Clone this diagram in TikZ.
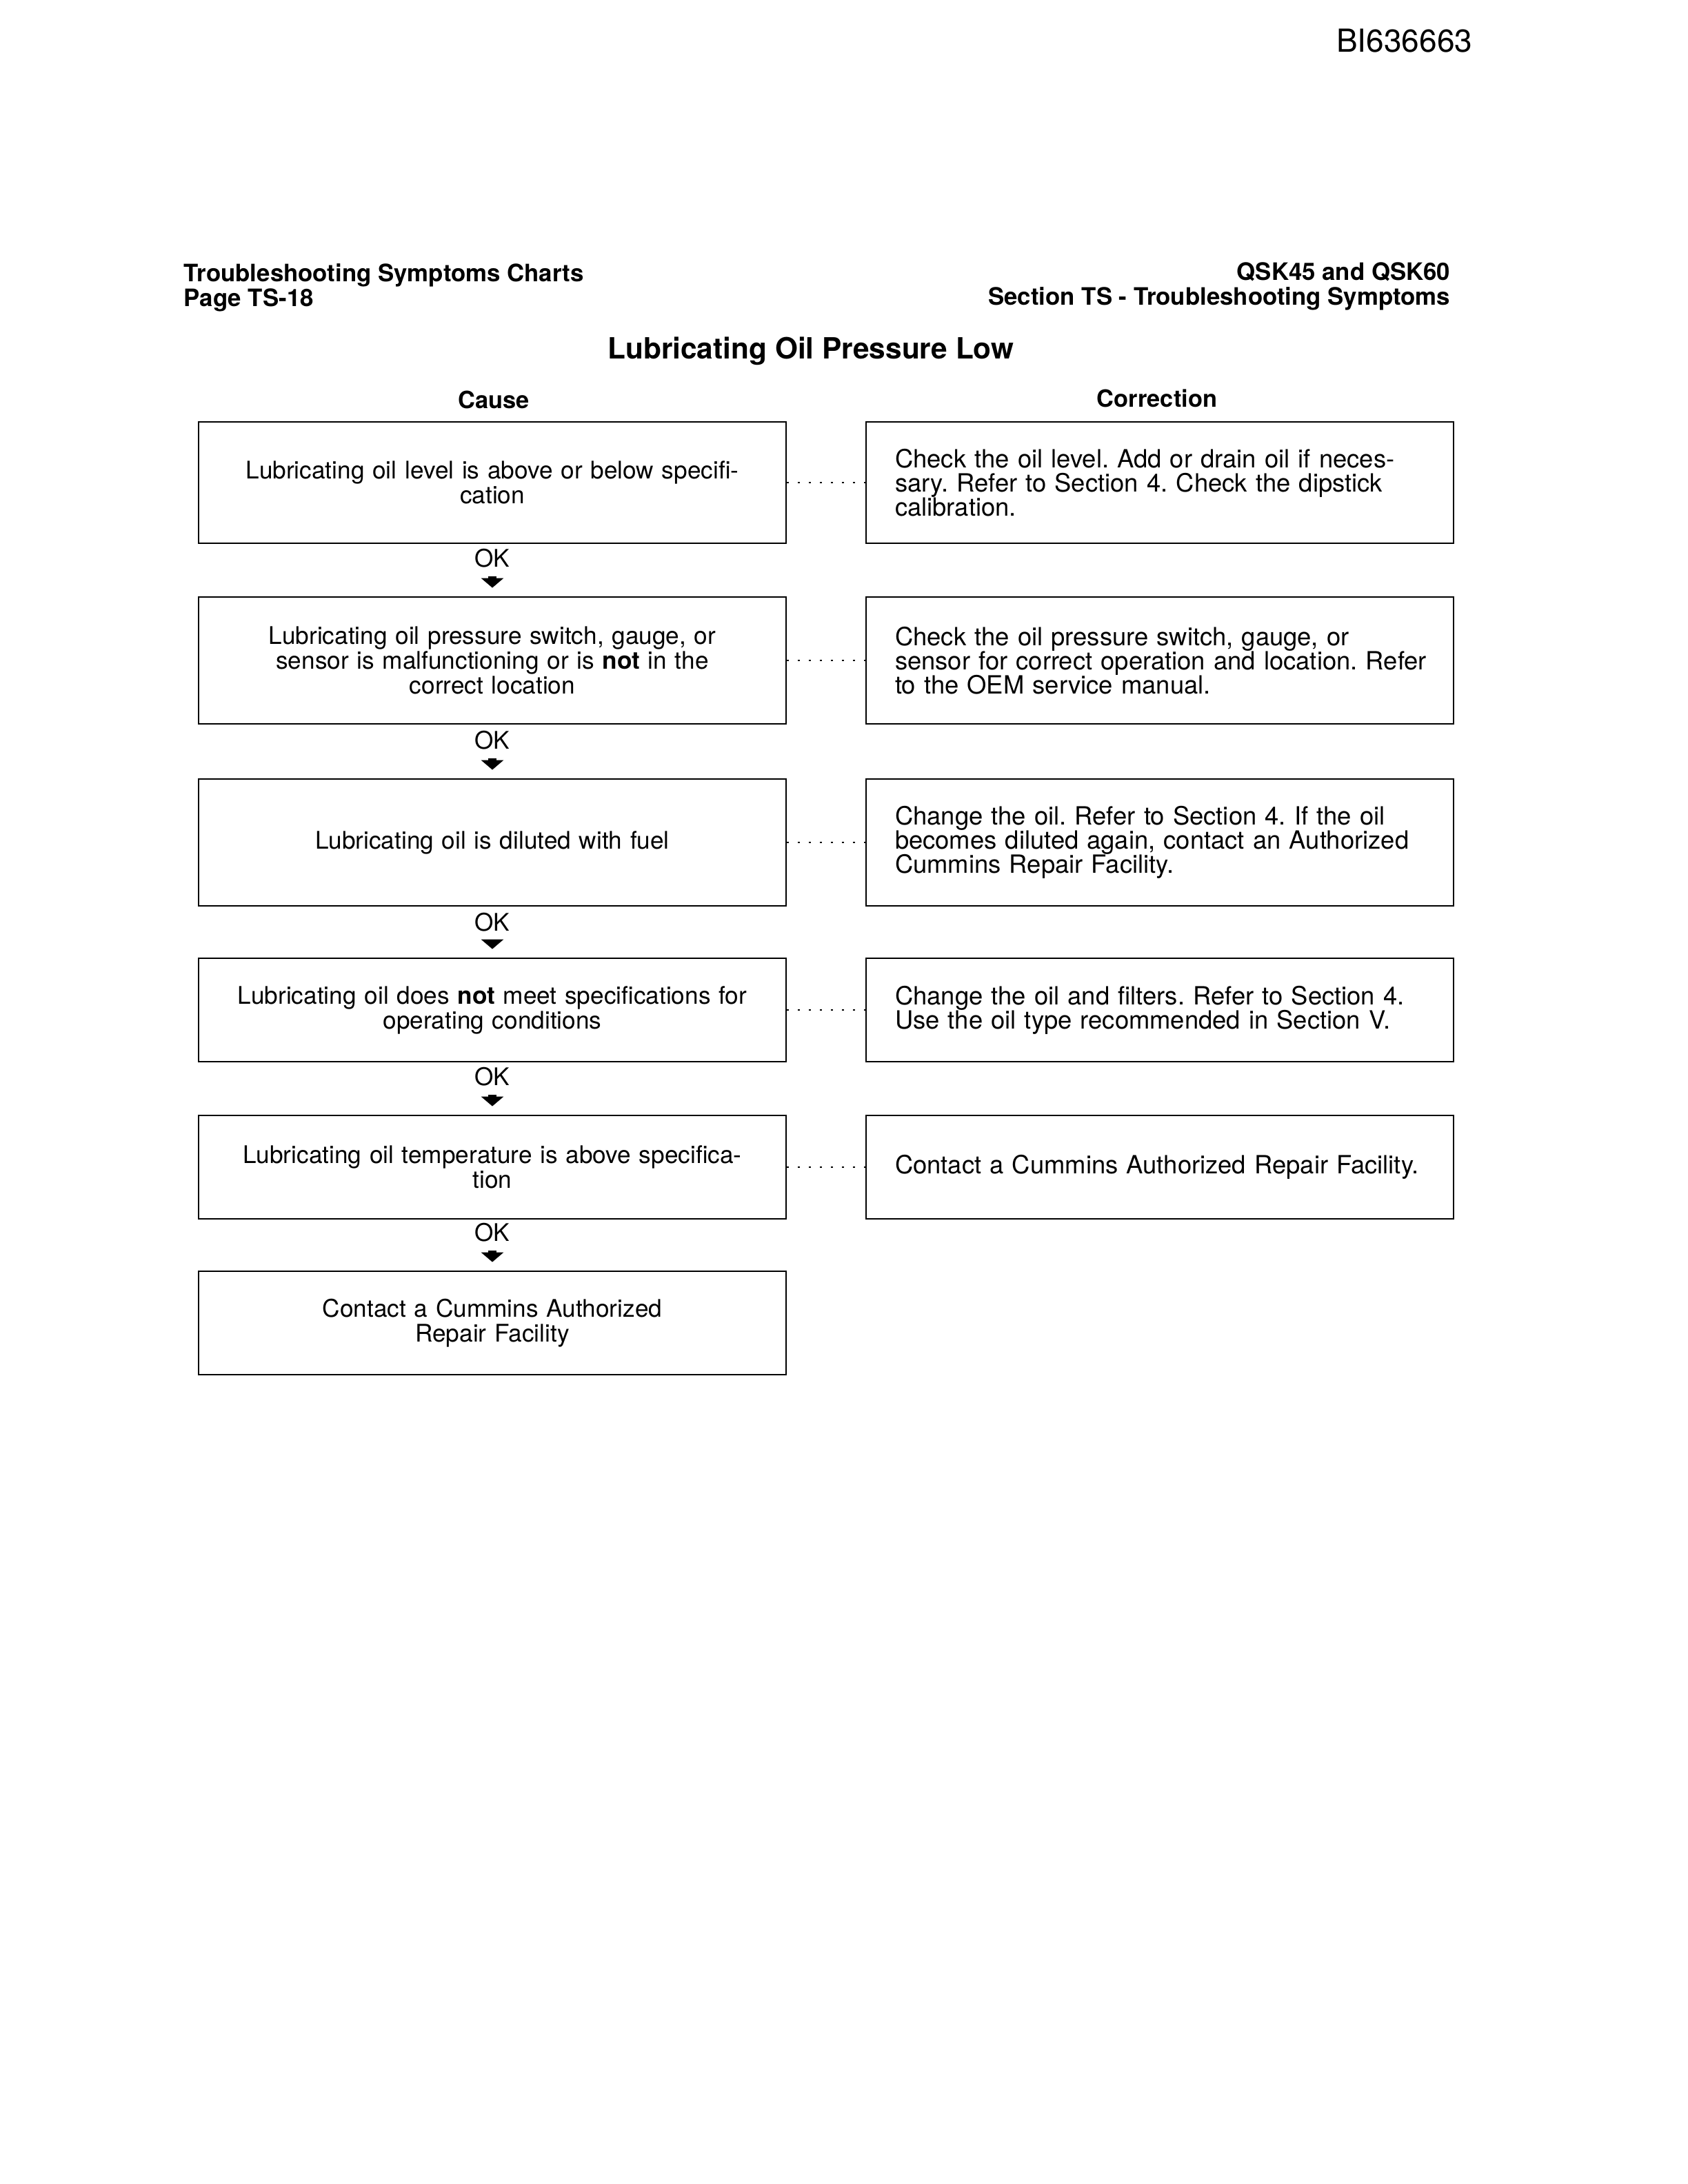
\documentclass[tikz,border=0pt]{standalone}
\usepackage{fontspec}
\setmainfont{TeX Gyre Heros}
\usetikzlibrary{arrows.meta}
\frenchspacing
\begin{document}
\begin{tikzpicture}[x=0.5pt,y=-0.5pt,
    cause/.style={draw,line width=0.7pt,minimum width=213pt,text width=192pt,inner xsep=10.5pt,align=center,font=\fontsize{8.8}{9}\selectfont},
    fix/.style={cause,align=left,text width=198pt,inner xsep=7.5pt,font=\fontsize{9.1}{8.8}\selectfont,execute at begin node={\leftskip=3pt}},
    heading/.style={inner sep=0pt,font=\fontsize{8.7}{9}\bfseries},
    oklabel/.style={inner sep=0pt,font=\fontsize{8.8}{9}\selectfont},
    okarrow/.style={line width=3pt,-{Triangle[width=8pt,length=3.5pt]},shorten <=3pt,shorten >=3pt},
    dotlink/.style={line width=0.7pt,dash pattern=on 0.7pt off 3.3pt}]
  \useasboundingbox (0,0) rectangle (1224,1584);
  % page heading
  \node[anchor=base east,inner sep=0pt,font=\fontsize{11.5}{12}\selectfont] (docid) at (1068,38) {BI636663};
  \node[heading,anchor=base west] (hdl1) at (133,204) {Troubleshooting Symptoms Charts};
  \node[heading,anchor=base west] (hdl2) at (133,222) {Page TS-18};
  \node[heading,anchor=base east] (hdr1) at (1052,203) {QSK45 and QSK60};
  \node[heading,anchor=base east] (hdr2) at (1052,221) {Section TS - Troubleshooting Symptoms};
  \node[anchor=base,font=\fontsize{10.6}{11}\bfseries] (title) at (588,260) {Lubricating Oil Pressure Low};
  \node[anchor=base,font=\fontsize{8.6}{9}\bfseries] (causehead) at (358,296) {Cause};
  \node[anchor=base,font=\fontsize{8.6}{9}\bfseries] (fixhead) at (839,295) {Correction};
  % cause column
  \node[cause,minimum height=44pt] (c1) at (357,350) {Lubricating oil level is above or below specifi-\\cation};
  \node[cause,minimum height=46pt] (c2) at (357,479) {Lubricating oil pressure switch, gauge, or\\sensor is malfunctioning or is \textbf{not} in the\\correct location};
  \node[cause,minimum height=46pt] (c3) at (357,611) {Lubricating oil is diluted with fuel};
  \node[cause,minimum height=37.5pt] (c4) at (357,732.5) {Lubricating oil does \textbf{not} meet specifications for\\operating conditions};
  \node[cause,minimum height=37.5pt] (c5) at (357,846.5) {Lubricating oil temperature is above specifica-\\tion};
  \node[cause,minimum height=37.5pt] (c6) at (357,959.5) {Contact a Cummins Authorized\\Repair Facility};
  % correction column
  \node[fix,minimum height=44pt] (f1) at (841,350) {Check the oil level. Add or drain oil if neces-\\sary. Refer to Section 4. Check the dipstick\\calibration.};
  \node[fix,minimum height=46pt] (f2) at (841,479) {Check the oil pressure switch, gauge, or\\sensor for correct operation and location. Refer\\to the OEM service manual.};
  \node[fix,minimum height=46pt] (f3) at (841,611) {Change the oil. Refer to Section 4. If the oil\\becomes diluted again, contact an Authorized\\Cummins Repair Facility.};
  \node[fix,minimum height=37.5pt] (f4) at (841,732.5) {Change the oil and filters. Refer to Section 4.\\Use the oil type recommended in Section V.};
  \node[fix,minimum height=37.5pt] (f5) at (841,846.5) {Contact a Cummins Authorized Repair Facility.};
  % OK steps
  \node[oklabel] (ok1) at (357,405) {OK};
  \node[oklabel] (ok2) at (357,537) {OK};
  \node[oklabel] (ok3) at (357,669) {OK};
  \node[oklabel] (ok4) at (357,781) {OK};
  \node[oklabel] (ok5) at (357,894) {OK};
  \draw[okarrow] (ok1) -- (c2);
  \draw[okarrow] (ok2) -- (c3);
  \draw[okarrow] (ok3) -- (c4);
  \draw[okarrow] (ok4) -- (c5);
  \draw[okarrow] (ok5) -- (c6);
  % dotted links
  \draw[dotlink] (c1) -- (f1);
  \draw[dotlink] (c2) -- (f2);
  \draw[dotlink] (c3) -- (f3);
  \draw[dotlink] (c4) -- (f4);
  \draw[dotlink] (c5) -- (f5);
\end{tikzpicture}
\end{document}
